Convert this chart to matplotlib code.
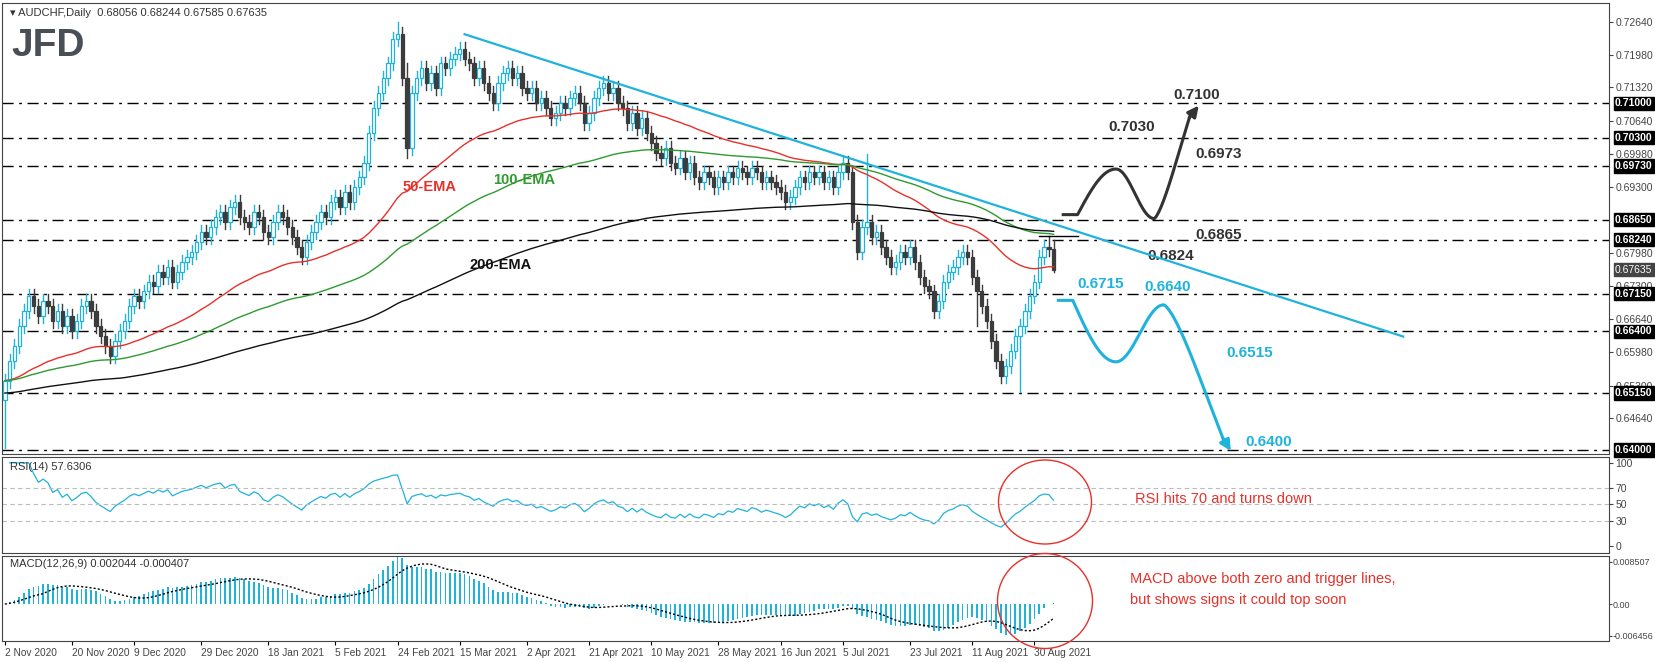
import matplotlib
matplotlib.use("Agg")
import matplotlib.pyplot as plt
from matplotlib.patches import Ellipse, Rectangle
import numpy as np
import pandas as pd

closes = [
0.6540,0.6580,0.6610,0.6650,0.6680, 0.6710,0.6690,0.6670,0.6700,0.6690,
0.6660,0.6680,0.6650,0.6670,0.6640, 0.6660,0.6690,0.6700,0.6680,0.6650,
0.6630,0.6610,0.6590,0.6620,0.6640, 0.6660,0.6690,0.6710,0.6700,0.6720,
0.6740,0.6730,0.6760,0.6750,0.6770, 0.6740,0.6760,0.6780,0.6790,0.6800,
0.6820,0.6840,0.6830,0.6850,0.6870, 0.6880,0.6860,0.6890,0.6900,0.6870,
0.6860,0.6850,0.6880,0.6870,0.6840, 0.6830,0.6860,0.6880,0.6870,0.6850,
0.6830,0.6810,0.6790,0.6820,0.6840, 0.6860,0.6880,0.6870,0.6900,0.6910,
0.6890,0.6920,0.6900,0.6930,0.6950, 0.6980,0.7040,0.7090,0.7120,0.7150,
0.7180,0.7230,0.7240,0.7150,0.7010, 0.7120,0.7150,0.7170,0.7140,0.7160,
0.7130,0.7180,0.7170,0.7190,0.7200, 0.7210,0.7190,0.7180,0.7150,0.7170,
0.7140,0.7120,0.7100,0.7140,0.7160, 0.7170,0.7150,0.7160,0.7130,0.7120,
0.7130,0.7100,0.7110,0.7090,0.7070, 0.7080,0.7100,0.7090,0.7110,0.7120,
0.7100,0.7060,0.7080,0.7110,0.7130, 0.7140,0.7120,0.7130,0.7100,0.7090,
0.7060,0.7080,0.7050,0.7070,0.7040, 0.7020,0.7000,0.6990,0.7010,0.6980,
0.6970,0.6990,0.6960,0.6980,0.6950, 0.6940,0.6960,0.6950,0.6930,0.6950,
0.6940,0.6960,0.6950,0.6970,0.6960, 0.6950,0.6970,0.6960,0.6940,0.6950,
0.6940,0.6930,0.6920,0.6900,0.6910, 0.6930,0.6950,0.6940,0.6960,0.6950,
0.6960,0.6940,0.6950,0.6930,0.6960, 0.6980,0.6960,0.6860,0.6800,0.6850,
0.6860,0.6830,0.6840,0.6810,0.6790, 0.6770,0.6780,0.6800,0.6790,0.6810,
0.6780,0.6750,0.6730,0.6720,0.6680, 0.6700,0.6740,0.6760,0.6770,0.6790,
0.6800,0.6790,0.6750,0.6720,0.6690, 0.6660,0.6620,0.6580,0.6550,0.6570,
0.6600,0.6630,0.6650,0.6680,0.6710, 0.6740,0.6790,0.6810,0.68056,0.67635]
first_open = 0.6500
wick = 0.0014
special_highs = {82: 0.7264, 84: 0.7180, 180: 0.6998, 218: 0.6832, 219: 0.68244}
special_lows = {0: 0.6405, 84: 0.6990, 203: 0.6650, 212: 0.6518, 219: 0.67585}

levels = [0.7100, 0.7030, 0.6973, 0.6865, 0.6824, 0.6715, 0.6640, 0.6515, 0.6400]
right_ticks = [0.72640, 0.71980, 0.71320, 0.70640, 0.69980, 0.69300, 0.67980,
               0.67300, 0.66640, 0.65980, 0.65300, 0.64640]
date_labels = ["2 Nov 2020", "20 Nov 2020", "9 Dec 2020", "29 Dec 2020", "18 Jan 2021",
               "5 Feb 2021", "24 Feb 2021", "15 Mar 2021", "2 Apr 2021", "21 Apr 2021",
               "10 May 2021", "28 May 2021", "16 Jun 2021", "5 Jul 2021", "23 Jul 2021",
               "11 Aug 2021", "30 Aug 2021"]

dates = pd.bdate_range("2020-11-02", periods=len(closes))
c = np.array(closes)
o = np.concatenate([[first_open], c[:-1]])
o[-1] = 0.68056
h = np.maximum(o, c) + wick
l = np.minimum(o, c) - wick
for k, v in special_highs.items(): h[k] = v
for k, v in special_lows.items(): l[k] = v
n = len(c)
x = np.arange(n)

s = pd.Series(c)
ema50 = s.ewm(span=50, adjust=False).mean()
ema100 = s.ewm(span=100, adjust=False).mean()
ema200 = pd.Series(np.concatenate([[0.6515]*1, c[1:]])).ewm(span=200, adjust=False).mean()
d = s.diff()
up = d.clip(lower=0).ewm(alpha=1/14, adjust=True).mean()
dn = (-d.clip(upper=0)).ewm(alpha=1/14, adjust=True).mean()
rsi = 100 - 100 / (1 + up / dn)
macd = s.ewm(span=12, adjust=False).mean() - s.ewm(span=26, adjust=False).mean()
sig = macd.rolling(9, min_periods=1).mean()

BLUE = "#1fb3dc"
FS = 7
plt.rcParams['font.family'] = ['Liberation Sans', 'DejaVu Sans']
fig = plt.figure(figsize=(16.55, 6.62), dpi=100)
L, R = 0.0012, 0.972
ax = fig.add_axes([L, 1 - 454/662, R - L, 451/662])
ar = fig.add_axes([L, 1 - 553/662, R - L, 96/662])
am = fig.add_axes([L, 1 - 641/662, R - L, 85/662])
xl = (-0.6, 334.9)
for a in (ax, ar, am):
    a.set_xlim(*xl)
    a.yaxis.tick_right()
    for sp in a.spines.values():
        sp.set_color("#444444")
    a.tick_params(axis="y", labelsize=FS + 0.5, colors="#444444", length=3, pad=2)
    a.set_xticks([])

ax.set_ylim(0.6392, 0.7302)
for i in range(n):
    bull = c[i] >= o[i]
    col = BLUE if bull else "#3c3c3c"
    ax.plot([i, i], [l[i], h[i]], color=col, lw=1, zorder=2)
    lo, hi = min(o[i], c[i]), max(o[i], c[i])
    ax.add_patch(Rectangle((i - 0.35, lo), 0.7, max(hi - lo, 0.00008),
                           facecolor="white" if bull else "#3c3c3c", edgecolor=col,
                           lw=0.9, zorder=3))
ax.plot(x, ema50, color="#e8302a", lw=1, zorder=4)
ax.plot(x, ema100, color="#2f9a2f", lw=1, zorder=4)
ax.plot(x, ema200, color="#111111", lw=1, zorder=4)
for lv in levels:
    ax.axhline(lv, color="black", lw=1, dashes=(8, 4, 2, 4), zorder=1)
ax.set_yticks(right_ticks)
ax.set_yticklabels([f"{t:.5f}" for t in right_ticks])
for lv in levels:
    ax.text(1.004, lv, f"{lv:.5f}", transform=ax.get_yaxis_transform(), color="white",
            fontsize=FS + 0.5, va="center", ha="left", fontweight="bold",
            bbox=dict(boxstyle="square,pad=0.15", fc="black", ec="black"))
ax.text(1.004, 0.67635, "0.67635", transform=ax.get_yaxis_transform(), color="white",
        fontsize=FS + 0.5, va="center", ha="left",
        bbox=dict(boxstyle="square,pad=0.15", fc="#444444", ec="#444444"))

ax.text(83, 0.6922, "50-EMA", color="#e8302a", fontsize=10.5, fontweight="bold")
ax.text(102, 0.6936, "100-EMA", color="#2f9a2f", fontsize=10.5, fontweight="bold")
ax.text(97, 0.6766, "200-EMA", color="#111111", fontsize=10.5, fontweight="bold")
ax.plot([96, 292], [0.7239, 0.6629], color=BLUE, lw=1.6, zorder=5)
ax.plot([216, 224], [0.6832, 0.6832], color="black", lw=1, zorder=5)

t = np.linspace(0, 1, 60)
bx = np.concatenate([[221, 224], 224 + (232 - 224) * t])
by = np.concatenate([[0.6875, 0.6875], 0.6875 + (0.6967 - 0.6875) * np.sin(np.pi / 2 * t)])
bx2 = 232 + (240 - 232) * t
by2 = 0.6867 + (0.6967 - 0.6867) * (np.cos(np.pi * t) + 1) / 2
bx3 = 240 + (247.5 - 240) * t
by3 = 0.6867 + (0.7075 - 0.6867) * (1 - np.cos(np.pi / 2 * t)) ** 0.7
ax.plot(np.concatenate([bx, bx2, bx3]), np.concatenate([by, by2, by3]), color="#333333", lw=2.2)
ax.annotate("", xy=(249.3, 0.7095), xytext=(247.3, 0.7070),
            arrowprops=dict(arrowstyle="-|>", color="#333333", lw=2.2, mutation_scale=16,
                            shrinkA=0, shrinkB=0))
cx = np.concatenate([[220, 223], 223 + (232 - 223) * t])
cy = np.concatenate([[0.6702, 0.6702], 0.6702 - (0.6702 - 0.6578) * np.sin(np.pi / 2 * t)])
cx2 = 232 + (242 - 232) * t
cy2 = 0.6578 + (0.6693 - 0.6578) * (1 - np.cos(np.pi * t)) / 2
cx3 = 242 + (254.5 - 242) * t
cy3 = 0.6693 - (0.6693 - 0.6420) * (1 - np.cos(np.pi / 2 * t)) ** 0.7
ax.plot(np.concatenate([cx, cx2, cx3]), np.concatenate([cy, cy2, cy3]), color=BLUE, lw=2.2)
ax.annotate("", xy=(256, 0.6398), xytext=(254.3, 0.6425),
            arrowprops=dict(arrowstyle="-|>", color=BLUE, lw=2.2, mutation_scale=16,
                            shrinkA=0, shrinkB=0))

for txt, xx, yy, col in [("0.7030", 230.5, 0.7051, "#333333"), ("0.6973", 248.5, 0.6997, "#333333"),
                         ("0.6865", 248.5, 0.6833, "#333333"), ("0.7100", 244, 0.7117, "#333333"),
                         ("0.6824", 238.5, 0.6792, "#333333"), ("0.6715", 224, 0.6735, BLUE),
                         ("0.6640", 238, 0.6729, BLUE), ("0.6515", 255, 0.6596, BLUE),
                         ("0.6400", 259, 0.6416, BLUE)]:
    ax.text(xx, yy, txt, color=col, fontsize=11, fontweight="bold", va="center")

ax.text(0.005, 0.99, "\u25BE AUDCHF,Daily  0.68056 0.68244 0.67585 0.67635", transform=ax.transAxes,
        fontsize=FS + 1, color="#333333", va="top", family=["Liberation Sans", "DejaVu Sans"])
ax.text(0.006, 0.945, "JFD", transform=ax.transAxes, fontsize=28, fontweight="bold",
        color="#4a4f57", va="top")

ar.set_ylim(-8.4, 107)
ar.plot(x, rsi, color=BLUE, lw=0.9)
for lv in (70, 50, 30):
    ar.axhline(lv, color="#bbbbbb", lw=0.8, ls=(0, (4, 3)))
ar.set_yticks([100, 70, 50, 30, 0])
ar.text(0.005, 0.95, "RSI(14) 57.6306", transform=ar.transAxes, fontsize=FS + 1, color="#333333", va="top")
ar.text(236, 57, "RSI hits 70 and turns down", color="#e8302a", fontsize=10.5, va="center")

am.set_ylim(-0.00747, 0.00972)
am.bar(x, macd, width=0.35, color=BLUE)
am.plot(x, sig, color="black", lw=1, ls=(0, (1.5, 1.5)))
am.set_yticks([0.008507, 0.0, -0.006456])
am.set_yticklabels(["0.008507", "0.00", "-0.006456"], fontsize=6.5)
am.tick_params(axis="y", pad=1, length=2)
am.text(0.005, 0.97, "MACD(12,26,9) 0.002044 -0.000407", transform=am.transAxes, fontsize=FS + 1,
        color="#333333", va="top")
am.text(235, 0.0029, "MACD above both zero and trigger lines,\nbut shows signs it could top soon",
        color="#e8302a", fontsize=10.5, va="center", linespacing=1.6)
pos = [dates.get_indexer([pd.Timestamp(dl)], method="nearest")[0] for dl in date_labels]
am.set_xticks(pos)
am.set_xticklabels(date_labels, fontsize=FS + 0.3, color="#444444", ha="left")
am.tick_params(axis="x", length=3, pad=2)
am.set_xlim(*xl)

fig.add_artist(Ellipse((1045, 160), 93, 84, transform=None, fill=False, ec="#e8302a", lw=1))
fig.add_artist(Ellipse((1045, 61), 95, 95, transform=None, fill=False, ec="#e8302a", lw=1))
fig.savefig("out.png", dpi=100, facecolor="white")
